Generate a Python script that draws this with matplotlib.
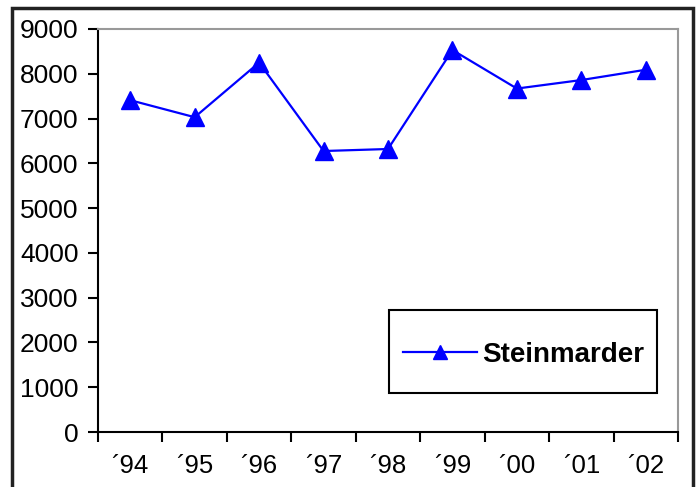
import matplotlib
matplotlib.use("Agg")
import matplotlib.pyplot as plt
from matplotlib.patches import Rectangle

years = ["\u00b494", "\u00b495", "\u00b496", "\u00b497", "\u00b498", "\u00b499", "\u00b400", "\u00b401", "\u00b402"]
values = [7410, 7030, 8250, 6275, 6320, 8530, 7670, 7860, 8090]
series_name = "Steinmarder"
yticks = [0, 1000, 2000, 3000, 4000, 5000, 6000, 7000, 8000, 9000]

plt.rcParams['font.family'] = ['Liberation Sans', 'DejaVu Sans']
plt.rcParams['xtick.labelsize'] = 18.5
plt.rcParams['ytick.labelsize'] = 19

W, H = 698, 487
fig = plt.figure(figsize=(W / 100, H / 100), dpi=100)
ax = fig.add_axes([98 / W, 1 - 432 / H, (678 - 98) / W, (432 - 29) / H])

x = list(range(len(values)))
ax.plot(x, values, color='#0000FF', lw=1.6, marker='^', markersize=13, markeredgecolor='#0000FF', label=series_name)

ax.set_xlim(-0.5, len(values) - 0.5)
ax.set_ylim(0, 9000)
ax.set_yticks(yticks)
ax.set_yticklabels([str(v) for v in yticks])
ax.set_xticks([i - 0.5 for i in range(len(values) + 1)])
ax.set_xticklabels([])
ax.set_xticks(x, minor=True)
ax.set_xticklabels(years, minor=True)
ax.tick_params(axis='x', which='minor', length=0, pad=16)
ax.tick_params(axis='x', which='major', direction='out', length=7, width=1.5)
ax.tick_params(axis='y', direction='out', length=7, width=1.5, pad=7)

for s in ['top', 'right']:
    ax.spines[s].set_color('#999999')
    ax.spines[s].set_linewidth(1.5)
for s in ['left', 'bottom']:
    ax.spines[s].set_color('black')
    ax.spines[s].set_linewidth(1.5)

# legend box
lx0, lx1, ly0, ly1 = 389, 657, 310, 393
ax.add_patch(Rectangle(((lx0 - 98) / 580, (432 - ly1) / 403), (lx1 - lx0) / 580, (ly1 - ly0) / 403,
                       transform=ax.transAxes, fill=True, facecolor='white', edgecolor='black',
                       linewidth=1.5, zorder=5))
leg = ax.legend(loc='center left', bbox_to_anchor=((lx0 - 98) / 580, (432 - (ly0 + ly1) / 2 - 3) / 403),
                frameon=False, borderaxespad=0, borderpad=0.5,
                prop={'weight': 'bold', 'size': 20}, handlelength=2.65, handletextpad=0.2,
                markerscale=0.8)
leg.set_zorder(6)

fig.patches.append(Rectangle((12 / W, -0.1), (693 - 12) / W, 1 - 8 / H + 0.1, transform=fig.transFigure,
                             fill=False, edgecolor='#222222', linewidth=2.5))

fig.savefig("out.png", dpi=100)
